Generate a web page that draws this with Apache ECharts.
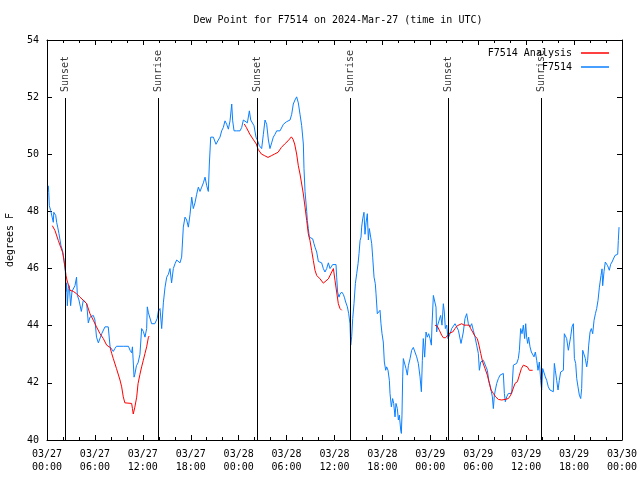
<!DOCTYPE html>
<html>
<head>
<meta charset="utf-8">
<script src="https://cdn.jsdelivr.net/npm/echarts@6/dist/echarts.min.js"></script>
<style>html,body{margin:0;padding:0;background:#fff}#c{width:640px;height:480px}</style>
</head>
<body>
<div id="c"></div>
<script>
// ---- data (hours since 2024-03-27 00:00 UTC) ----
const titleText = 'Dew Point for F7514 on 2024-Mar-27 (time in UTC)';
const xTickLabels = ['03/27\n00:00','03/27\n06:00','03/27\n12:00','03/27\n18:00','03/28\n00:00','03/28\n06:00','03/28\n12:00','03/28\n18:00','03/29\n00:00','03/29\n06:00','03/29\n12:00','03/29\n18:00','03/30\n00:00'];
const yTickValues = [40,42,44,46,48,50,52,54];
const eventHours = [2.28, 13.95, 26.3, 37.95, 50.27, 61.92];
const eventNames = ['Sunset','Sunrise','Sunset','Sunrise','Sunset','Sunrise'];

const blueHours = [0.17,0.22,0.29,0.46,0.58,0.71,0.79,0.85,0.92,1.09,1.21,1.34,1.5,1.63,1.75,1.92,2.05,2.17,2.3,
2.38,2.46,2.55,2.67,2.79,2.96,3.13,3.3,3.5,3.7,3.8,4.0,4.2,4.3,4.55,4.76,4.97,5.17,5.38,5.6,5.8,6.0,6.2,6.43,6.64,6.85,7.05,7.26,7.67,7.9,8.1,8.3,8.5,8.7,9.14,9.55,10.2,10.4,10.6,10.7,10.9,11.0,11.2,11.4,11.64,11.85,12.06,12.27,12.48,12.56,12.7,12.9,13.1,13.5,13.8,13.94,
14.15,14.36,14.57,14.78,14.99,15.2,15.4,15.6,15.82,16.03,16.24,16.65,16.86,17.07,17.28,17.49,17.7,17.91,18.12,18.32,18.53,18.74,18.95,19.16,19.37,19.58,19.79,20.0,20.2,20.33,20.5,20.83,21.16,21.45,21.66,21.87,22.08,22.29,22.5,22.71,22.92,23.13,23.25,23.42,23.75,24.17,24.38,24.59,24.8,25.09,25.34,25.51,25.75,25.92,26.17,26.34,26.59,26.88,27.09,27.3,27.51,27.72,27.92,28.13,28.34,28.55,28.76,29.18,29.6,30.0,30.43,30.64,30.84,31.05,31.26,31.47,31.68,31.89,32.1,
32.18,32.31,32.52,32.6,32.72,32.85,32.93,33.27,33.43,33.56,33.77,33.98,34.39,34.6,34.81,35.02,35.23,35.44,35.65,35.77,35.94,36.19,36.27,36.39,36.56,36.69,36.9,37.1,37.23,37.4,37.61,37.78,37.94,38.03,38.15,38.28,
38.44,38.61,38.78,38.95,39.07,39.2,39.32,39.4,39.53,39.69,39.82,39.95,40.11,40.24,40.36,40.53,40.66,40.78,40.95,41.11,41.2,41.36,41.53,41.7,41.82,41.95,42.11,42.24,42.41,42.53,42.7,42.87,42.95,43.12,43.28,43.41,43.58,43.7,43.87,44.0,44.12,44.29,44.37,44.45,
44.54,44.62,44.83,44.95,45.12,45.25,45.46,45.66,45.87,46.08,46.29,46.5,46.71,46.88,47.0,47.12,47.29,47.46,47.62,47.79,47.96,48.13,48.21,48.38,48.55,48.71,48.79,48.92,49.13,49.29,49.46,49.63,49.75,49.88,50.05,50.21,50.38,50.55,50.67,50.88,51.09,51.3,51.51,51.72,51.84,51.97,52.13,52.34,52.55,52.76,52.97,53.18,53.38,53.59,53.8,54.01,54.14,54.31,54.47,54.64,54.81,54.97,55.14,55.31,55.47,55.64,55.77,55.89,56.02,56.14,56.31,56.52,56.73,56.94,57.14,57.27,57.39,57.56,57.77,57.98,58.19,58.4,58.6,58.81,59.02,59.15,59.31,59.48,59.65,59.81,59.94,60.06,60.19,60.31,60.48,60.65,60.81,60.98,61.15,61.32,61.48,61.65,61.82,61.94,62.07,62.23,62.4,62.57,62.77,62.98,63.19,63.4,63.53,63.65,63.82,63.99,64.15,64.32,64.49,64.66,64.78,64.95,65.07,65.28,65.41,65.57,65.74,65.91,66.04,66.2,66.33,66.49,66.66,66.83,66.95,67.08,67.25,67.41,67.58,67.7,67.83,68.0,68.16,68.33,68.5,68.67,68.83,69.0,69.17,69.37,69.5,69.58,69.75,69.91,70.08,70.2,70.41,70.58,70.75,70.91,71.12,71.25,71.46,71.54,71.63];
const blueValues = [48.9,48.67,48.2,48.03,48.03,48.1,47.62,47.97,47.97,47.86,47.62,47.45,47.22,47.0,46.8,46.65,46.45,46.2,45.9,
45.2,45.5,44.7,45.3,45.4,44.7,45.2,45.24,45.4,45.7,45.06,44.9,44.9,44.5,44.9,44.83,44.77,44.1,44.3,44.25,44.36,44.2,43.6,43.4,43.4,43.72,43.67,43.96,43.96,43.26,43.26,43.1,43.2,43.28,43.28,43.28,43.28,43.14,43.05,43.26,42.2,42.3,42.6,42.7,43.0,43.9,43.8,43.6,43.9,44.66,44.45,44.4,44.07,44.07,44.25,44.5,
44.6,43.9,44.8,45.35,45.7,45.8,46.0,45.5,46.0,46.17,46.3,46.2,46.4,47.45,47.8,47.7,47.45,47.9,48.5,48.1,48.3,48.6,48.85,48.7,48.85,49.0,49.2,48.9,48.7,49.66,50.6,50.6,50.35,50.5,50.6,50.82,50.94,51.17,51.05,50.88,51.17,51.76,51.17,50.82,50.82,50.82,50.94,51.2,51.17,51.1,51.52,51.2,51.2,51.0,50.6,50.5,50.3,50.2,50.7,51.2,51.05,50.5,50.2,50.4,50.6,50.7,50.82,50.82,51.05,51.14,51.2,51.4,51.76,51.9,52.01,51.8,51.4,51.0,50.36,
49.5,48.7,48.0,47.68,47.4,47.1,47.04,47.04,46.87,46.75,46.58,46.25,46.2,46.0,45.88,46.0,46.2,46.0,46.05,46.14,46.17,46.14,45.7,45.18,45.0,45.1,45.18,45.1,45.0,44.83,44.66,44.42,44.07,43.32,43.61,44.25,
44.77,45.47,45.82,46.17,46.52,46.98,47.1,47.45,47.74,47.97,47.2,47.6,47.92,47.0,47.4,47.1,46.87,46.4,45.7,45.47,45.12,44.42,44.48,44.54,44.07,43.72,43.43,42.73,42.44,42.56,42.44,42.09,41.63,41.16,41.45,41.28,40.81,41.28,41.1,40.7,40.87,40.35,40.23,40.87,
42.21,42.85,42.8,42.5,42.27,42.6,42.85,43.14,43.24,43.2,42.91,42.68,42.21,41.69,42.79,43.55,42.9,43.78,43.6,43.72,43.55,43.32,44.02,45.06,45.0,44.65,43.78,44.02,43.96,44.36,44.02,44.77,44.48,43.9,44.02,43.55,43.5,43.78,43.9,43.84,44.07,44.02,43.84,43.78,43.38,43.55,43.78,44.25,44.42,44.07,43.96,44.07,43.84,43.61,43.32,43.03,42.44,42.73,42.68,42.79,42.73,42.56,42.44,42.09,41.92,41.69,41.51,41.1,41.57,41.75,41.98,42.15,42.27,42.33,42.33,41.63,41.34,41.51,41.63,41.57,41.63,42.62,42.62,42.68,42.85,43.14,43.9,43.72,44.02,43.55,44.07,43.6,43.38,43.6,43.26,43.08,43.08,42.91,43.08,42.79,42.44,42.73,42.09,41.75,42.5,42.56,42.21,42.09,41.86,41.75,41.69,41.69,42.68,42.44,42.09,41.75,42.09,42.38,42.38,42.44,43.72,43.72,43.55,43.14,43.14,43.61,43.96,44.07,42.85,42.68,42.15,41.86,41.57,41.45,41.8,43.14,43.08,42.85,42.56,42.79,43.32,43.78,43.9,43.72,44.19,44.42,44.6,44.89,45.35,45.76,45.99,45.4,45.9,46.23,46.28,46.1,45.94,46.15,46.23,46.28,46.46,46.5,46.5,46.98,47.45];

// analysis series; null separates the segments
const redHours = [0.67,1.0,1.42,1.71,1.96,2.13,2.25,2.38,2.5,2.88,3.3,3.7,4.13,4.55,4.97,5.38,5.8,6.2,6.64,7.05,7.47,7.9,8.1,8.3,8.7,9.14,9.35,9.55,9.75,9.98,10.6,10.7,10.8,11.0,11.23,11.4,11.64,11.85,12.06,12.27,12.48,12.7,12.8,
18.0,
24.7,24.96,25.38,25.8,26.21,26.42,26.84,27.26,27.67,28.09,28.51,28.93,29.35,29.76,30.18,30.6,30.8,31.01,31.26,31.47,31.68,31.89,32.1,32.31,32.52,32.72,32.93,33.14,33.35,33.56,33.77,34.19,34.6,34.81,35.23,35.65,35.86,36.06,36.27,36.48,36.69,36.9,
42.0,
48.58,48.88,49.13,49.42,49.63,49.92,50.17,50.46,50.8,51.09,51.38,51.63,51.93,52.22,52.55,52.85,53.05,53.3,53.59,53.88,54.09,54.31,54.55,54.85,55.14,55.39,55.6,55.89,56.18,56.52,56.94,57.35,57.77,58.06,58.31,58.6,58.9,59.15,59.4,59.65,59.9,60.15,60.4,60.61,60.81];
const redValues = [47.5,47.33,46.98,46.75,46.57,46.28,46.05,45.76,45.6,45.24,45.2,45.12,45.0,44.89,44.77,44.42,44.19,43.96,43.72,43.55,43.32,43.24,43.03,42.85,42.5,42.1,41.86,41.51,41.3,41.28,41.28,41.1,40.91,41.15,41.5,41.97,42.3,42.56,42.79,43.03,43.26,43.6,43.64,
null,
51.06,50.94,50.71,50.53,50.36,50.18,50.01,49.95,49.89,49.95,50.01,50.07,50.24,50.36,50.47,50.61,50.53,50.36,50.01,49.6,49.31,48.96,48.61,48.15,47.68,47.22,46.98,46.63,46.28,45.94,45.76,45.64,45.49,45.45,45.64,45.88,46.0,45.59,45.18,44.77,44.6,44.54,
null,
44.02,43.98,43.84,43.67,43.58,43.58,43.67,43.75,43.78,43.9,44.0,44.07,44.07,44.02,44.02,44.02,43.9,43.78,43.63,43.55,43.32,43.03,42.73,42.5,42.27,41.98,41.75,41.63,41.51,41.42,41.4,41.42,41.45,41.57,41.75,41.98,42.04,42.27,42.5,42.62,42.59,42.56,42.44,42.38,42.44];

// ---- chart ----
const FONT = 'DejaVu Sans Mono';
const Y_MIN = 40, Y_MAX = 54;
const lineTop = 51.97, labelBase = 52.18;

const chart = echarts.init(document.getElementById('c'), null, {renderer: 'canvas'});
const blueData = blueHours.map((h, i) => [h, blueValues[i]]);
const redData = redHours.map((h, i) => redValues[i] === null ? [h, '-'] : [h, redValues[i]]);

const axisCommon = {
  axisLine: {show: true, onZero: false, lineStyle: {color: '#000', width: 1}},
  splitLine: {show: false}
};

chart.setOption({
  animation: false,
  backgroundColor: '#fff',
  textStyle: {fontFamily: FONT},
  title: {
    text: titleText, left: 333, top: 10, textAlign: 'center',
    textStyle: {fontFamily: FONT, fontSize: 10, fontWeight: 'normal', color: '#000'}
  },
  legend: [
    {data: [{name: 'F7514 Analysis', icon: 'rect'}], right: 26, top: 43, align: 'right', itemWidth: 28, itemHeight: 1.5,
     textStyle: {fontFamily: FONT, fontSize: 10, color: '#000', padding: [0, 4, 0, 0]}, selectedMode: false},
    {data: [{name: 'F7514', icon: 'rect'}], right: 26, top: 57, align: 'right', itemWidth: 28, itemHeight: 1.5,
     textStyle: {fontFamily: FONT, fontSize: 10, color: '#000', padding: [0, 4, 0, 0]}, selectedMode: false}
  ],
  grid: {left: 47, right: 18, top: 40, bottom: 40, containLabel: false, outerBoundsMode: 'none'},
  xAxis: [
    Object.assign({}, axisCommon, {
      type: 'value', position: 'bottom', min: 0, max: 72, interval: 6,
      axisTick: {show: true, inside: true, length: 5, lineStyle: {color: '#000'}},
      minorTick: {show: true, splitNumber: 3, length: 3, lineStyle: {color: '#000'}},
      minorSplitLine: {show: false},
      axisLabel: {fontFamily: FONT, fontSize: 10, color: '#000', margin: 8, lineHeight: 13,
        formatter: v => xTickLabels[Math.round(v / 6)] || ''}
    }),
    Object.assign({}, axisCommon, {
      type: 'value', position: 'top', min: 0, max: 72, interval: 6,
      axisTick: {show: true, inside: true, length: 5, lineStyle: {color: '#000'}},
      minorTick: {show: true, splitNumber: 3, length: 3, lineStyle: {color: '#000'}},
      axisLabel: {show: false}
    })
  ],
  yAxis: [
    Object.assign({}, axisCommon, {
      type: 'value', position: 'left', min: Y_MIN, max: Y_MAX, interval: 2,
      name: 'degrees F', nameLocation: 'middle', nameGap: 32, nameRotate: 90,
      nameTextStyle: {fontFamily: FONT, fontSize: 10, color: '#000'},
      axisTick: {show: true, inside: true, length: 5, lineStyle: {color: '#000'}},
      axisLabel: {fontFamily: FONT, fontSize: 10, color: '#000', margin: 8,
        formatter: v => yTickValues.indexOf(v) >= 0 ? String(v) : ''}
    }),
    Object.assign({}, axisCommon, {
      type: 'value', position: 'right', min: Y_MIN, max: Y_MAX, interval: 2,
      axisTick: {show: true, inside: true, length: 5, lineStyle: {color: '#000'}},
      axisLabel: {show: false}
    })
  ],
  series: [
    {
      name: 'F7514', type: 'line', data: blueData, showSymbol: false, symbol: 'none',
      lineStyle: {color: '#0a80ff', width: 1}, itemStyle: {color: '#0a80ff'},
      z: 2,
      markLine: {
        silent: true, symbol: 'none', animation: false,
        lineStyle: {color: '#000', width: 1, type: 'solid'},
        label: {show: false},
        data: eventHours.map(h => [{coord: [h, Y_MIN]}, {coord: [h, lineTop]}])
      }
    },
    {
      name: 'F7514 Analysis', type: 'line', data: redData, showSymbol: false, symbol: 'none',
      connectNulls: false,
      lineStyle: {color: '#ff0000', width: 1}, itemStyle: {color: '#ff0000'},
      z: 3
    },
    {
      name: 'events', type: 'scatter', symbolSize: 0, silent: true,
      data: eventHours.map(h => [h, labelBase]),
      label: {
        show: true, position: [0, 0], rotate: 90, align: 'left', verticalAlign: 'middle',
        fontFamily: FONT, fontSize: 10, color: '#000',
        formatter: p => eventNames[p.dataIndex]
      },
      z: 4
    }
  ]
});
</script>
</body>
</html>
